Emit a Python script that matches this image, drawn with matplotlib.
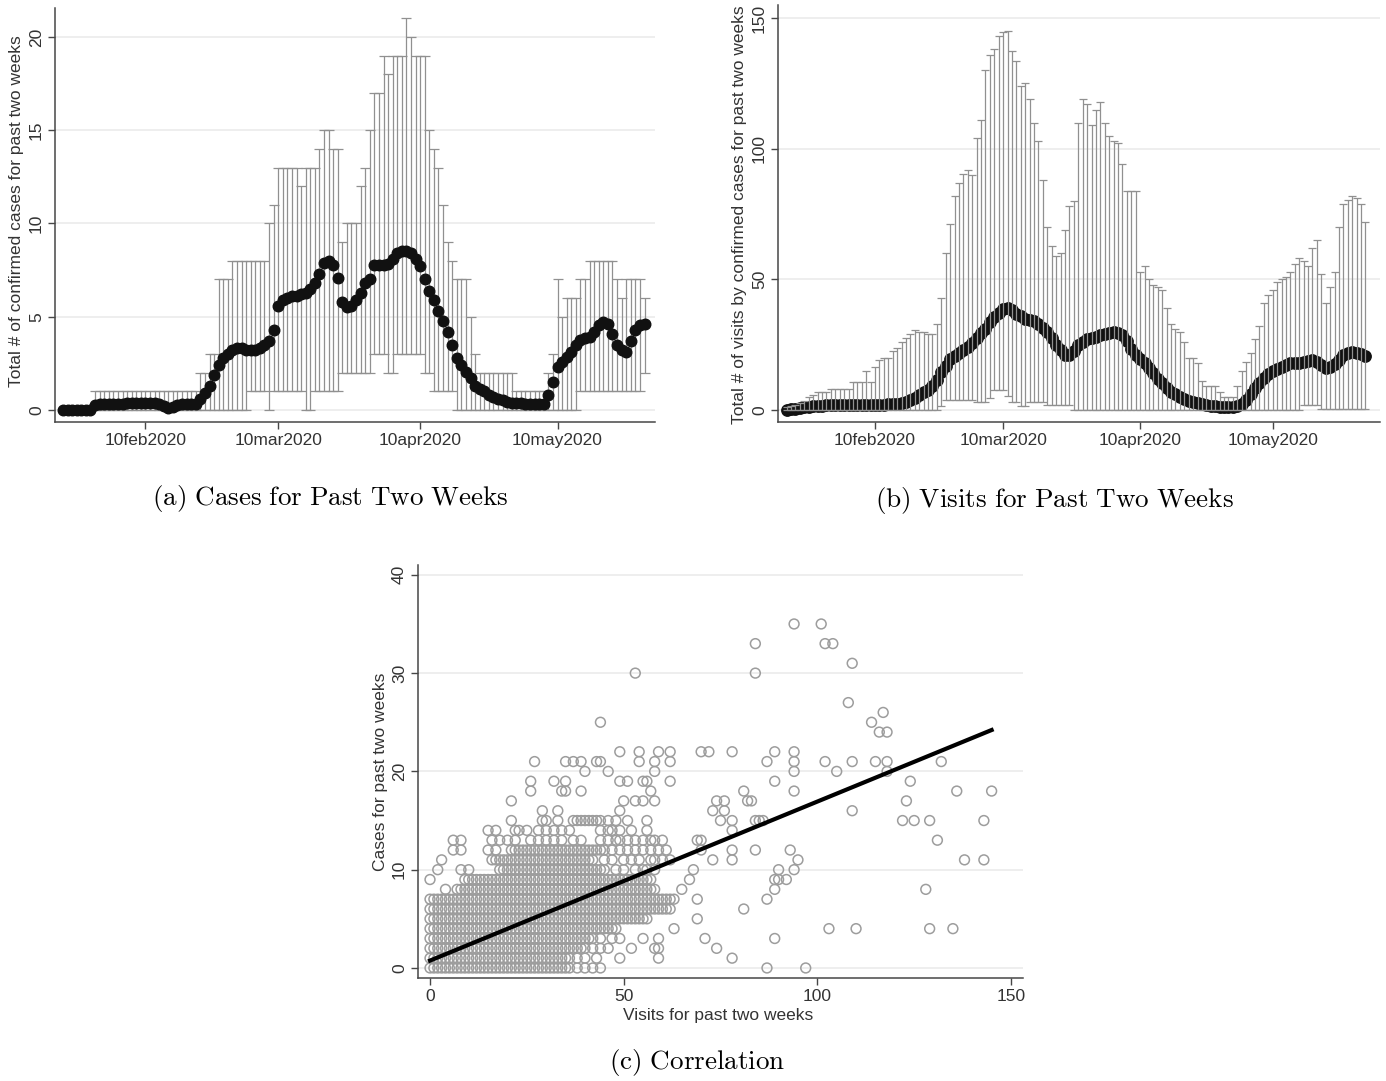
import numpy as np
import matplotlib.pyplot as plt

plt.rcParams['font.family'] = ['Liberation Sans', 'DejaVu Sans']
plt.rcParams['mathtext.fontset'] = 'cm'

# (a) confirmed cases for past two weeks, one value per day from 23jan2020
cases_start = np.datetime64('2020-01-23')
cases_max = [
    0, 0, 0, 0, 0, 0, 0, 1, 1, 1,
    1, 1, 1, 1, 1, 1, 1, 1, 1, 1,
    1, 1, 1, 1, 1, 1, 1, 1, 1, 1,
    2, 2, 3, 3, 7, 7, 7, 8, 8, 8,
    8, 8, 8, 8, 8, 10, 11, 13, 13, 13,
    13, 13, 12, 13, 13, 13, 14, 15, 15, 14,
    14, 9, 10, 10, 10, 12, 13, 15, 17, 17,
    19, 18, 19, 19, 19, 21, 20, 19, 19, 19,
    15, 14, 13, 11, 9, 8, 7, 7, 7, 5,
    3, 2, 2, 2, 2, 2, 2, 2, 2, 1,
    1, 1, 1, 1, 1, 1, 2, 3, 7, 5,
    6, 6, 6, 7, 7, 8, 8, 8, 8, 8,
    8, 7, 6, 7, 7, 7, 7, 6,
]
cases_min = [
    0, 0, 0, 0, 0, 0, 0, 0, 0, 0,
    0, 0, 0, 0, 0, 0, 0, 0, 0, 0,
    0, 0, 0, 0, 0, 0, 0, 0, 0, 0,
    0, 0, 0, 0, 0, 0, 0, 0, 0, 0,
    0, 1, 1, 1, 1, 0, 1, 1, 1, 1,
    1, 1, 1, 0, 0, 1, 1, 1, 1, 1,
    1, 2, 2, 2, 2, 2, 2, 2, 3, 3,
    3, 2, 2, 3, 3, 3, 3, 3, 3, 2,
    2, 1, 1, 1, 1, 1, 0, 0, 0, 0,
    0, 0, 0, 0, 0, 0, 0, 0, 0, 0,
    0, 0, 0, 0, 0, 0, 0, 0, 0, 0,
    0, 0, 0, 1, 1, 1, 1, 1, 1, 1,
    1, 1, 1, 1, 1, 1, 1, 2,
]
cases_mean = [
    0.0, 0.0, 0.0, 0.0, 0.0, 0.0, 0.0, 0.25, 0.3, 0.3,
    0.3, 0.3, 0.3, 0.35, 0.4, 0.4, 0.4, 0.4, 0.4, 0.4,
    0.4, 0.35, 0.2, 0.1, 0.15, 0.25, 0.3, 0.3, 0.3, 0.35,
    0.6, 0.9, 1.3, 1.9, 2.4, 2.8, 3.0, 3.2, 3.3, 3.3,
    3.2, 3.2, 3.2, 3.3, 3.5, 3.7, 4.3, 5.6, 5.9, 6.0,
    6.1, 6.1, 6.2, 6.3, 6.5, 6.8, 7.3, 7.9, 8.0, 7.8,
    7.1, 5.8, 5.5, 5.6, 5.9, 6.3, 6.8, 7.05, 7.8, 7.75,
    7.8, 7.85, 8.1, 8.4, 8.5, 8.5, 8.4, 8.1, 7.7, 7.0,
    6.4, 5.9, 5.3, 4.8, 4.2, 3.5, 2.8, 2.4, 2.05, 1.7,
    1.3, 1.15, 1.0, 0.8, 0.7, 0.6, 0.55, 0.45, 0.4, 0.4,
    0.4, 0.35, 0.35, 0.3, 0.3, 0.3, 0.8, 1.5, 2.3, 2.6,
    2.85, 3.1, 3.5, 3.75, 3.85, 3.9, 4.2, 4.55, 4.7, 4.6,
    4.1, 3.5, 3.2, 3.1, 3.7, 4.3, 4.55, 4.6,
]

# (b) visits by confirmed cases for past two weeks, daily from 21jan2020
visits_start = np.datetime64('2020-01-21')
visits_max = [
    1, 1.5, 2, 2.5, 3.5, 4.9, 5.8, 6.8, 6.8, 6.8,
    8, 8, 8, 8, 8, 10.9, 10.9, 10.9, 15, 10.9,
    16.6, 19, 20, 20, 22.6, 23.7, 26, 27.5, 29, 30.7,
    30, 30, 29, 29, 33, 43, 60, 71, 82, 87,
    90.5, 92, 90, 104, 111, 130, 136, 138, 143, 144.5,
    145, 137.5, 133.6, 124, 125, 119, 110, 103, 88, 70,
    62.7, 59, 60, 69, 78, 80, 110, 119, 117, 109,
    115, 118, 110, 105, 103, 102, 94, 84, 84, 84,
    53, 55, 50, 48, 47, 46, 39, 33, 31, 30,
    26, 20, 20, 18, 11, 9, 9, 9, 7, 5,
    5, 5, 9, 15, 18.5, 22, 27, 32, 41, 44,
    46, 49, 50, 51, 53, 56, 58, 57, 55, 62,
    65, 52, 41, 47, 53, 70, 79, 80.5, 82, 81,
    79, 72,
]
visits_min = [
    0, 0, 0, 0, 0, 0, 0, 0, 0, 0,
    0, 0, 0, 0, 0, 0, 0, 0, 0, 0,
    0, 0, 0, 0, 0, 0, 0, 0, 0, 0,
    0, 0, 0, 0, 0, 1.5, 4, 4, 4, 4,
    4, 4, 4, 3, 3, 3, 4.5, 7.5, 7.5, 7.5,
    5.5, 3, 3, 1.5, 1.5, 3, 3, 3, 3, 2,
    2, 2, 2, 2, 2, 0, 0, 0, 0, 0,
    0, 0, 0, 0, 0, 0, 0, 0, 0, 0,
    0, 0, 0, 0, 0, 0, 0, 0, 0, 0,
    0, 0, 0, 0, 0, 0, 0, 0, 0, 0,
    0, 0, 0, 0, 0, 0, 0, 0, 0, 0,
    0, 0, 0, 0, 0, 0, 0, 2, 2, 2,
    2, 0.5, 0.5, 0.5, 0.5, 0.5, 0.5, 0.5, 0.5, 0.5,
    0.5, 0.5,
]
visits_mean = [
    0.0, 0.2, 0.5, 0.8, 1.0, 1.3, 1.5, 1.6, 1.7, 1.8,
    1.9, 2.0, 2.0, 2.0, 2.0, 2.0, 2.0, 2.0, 2.0, 2.0,
    2.0, 2.0, 2.0, 2.1, 2.2, 2.3, 2.6, 3.0, 3.8, 4.7,
    5.8, 6.8, 7.8, 9.0, 11.5, 14.5, 17.0, 19.5, 20.8, 21.8,
    22.8, 24.0, 25.5, 27.5, 29.5, 31.0, 33.5, 35.5, 37.0, 38.5,
    39.0, 38.3, 36.8, 35.8, 35.0, 34.5, 34.0, 33.0, 31.5, 30.0,
    27.5, 25.0, 23.0, 21.0, 21.0, 22.5, 25.0, 26.2, 27.0, 27.5,
    28.0, 28.6, 29.0, 29.4, 29.7, 29.5, 28.8, 26.5, 23.5, 21.0,
    19.5, 18.0, 16.0, 14.0, 12.0, 10.2, 8.5, 7.0, 6.0, 5.0,
    4.3, 3.6, 3.0, 2.6, 2.2, 1.9, 1.6, 1.4, 1.2, 1.0,
    1.0, 1.2, 1.6, 2.4, 4.0, 6.0, 8.3, 10.5, 12.2, 13.6,
    14.8, 15.8, 16.6, 17.3, 17.9, 18.0, 18.0, 18.2, 18.8, 19.2,
    18.5, 17.2, 16.0, 16.3, 17.5, 19.2, 21.0, 21.8, 22.2, 22.0,
    21.5, 20.5,
]

date_ticks = ['2020-02-10', '2020-03-10', '2020-04-10', '2020-05-10']
date_labels = ['10feb2020', '10mar2020', '10apr2020', '10may2020']

# (c) cases vs visits; rows where every integer visit count in a range is filled
dense_cases = [0, 1, 2, 3, 4, 5, 6, 7, 8, 9, 10, 11, 12]
dense_from = [0, 0, 0, 0, 0, 0, 0, 0, 7, 9, 18, 16, 21]
dense_to = [36, 36, 40, 42, 48, 56, 62, 63, 58, 57, 45, 42, 45]
# single points, grouped by cases value
extra_cases = [0, 1, 2, 3, 4, 5, 6, 7, 8, 9, 10, 11, 12, 13, 14, 15, 16, 17,
               18, 19, 20, 21, 22, 24, 25, 26, 27, 30, 31, 33, 35]
extra_visits = [
    [38, 40, 42, 44, 87, 97],
    [38, 40, 43, 49, 59, 78],
    [42, 44, 46, 52, 58, 59, 74],
    [44, 47, 49, 55, 59, 71, 89],
    [63, 103, 110, 129, 135],
    [69],
    [81],
    [69, 87],
    [4, 65, 89, 128],
    [0, 67, 89, 90, 92],
    [2, 8, 10, 48, 50, 53, 55, 56, 58, 68, 90, 94],
    [3, 45, 47, 50, 52, 54, 57, 58, 60, 62, 73, 78, 95, 138, 143],
    [6, 8, 15, 17, 47, 49, 51, 53, 55, 57, 59, 61, 70, 78, 84, 93],
    [6, 8, 16, 18, 20, 22, 26, 28, 30, 32, 34, 37, 39, 44, 46, 48, 49, 51,
     53, 55, 57, 58, 60, 69, 70, 131],
    [15, 17, 22, 23, 25, 28, 30, 32, 34, 36, 44, 46, 47, 49, 52, 56, 78],
    [21, 29, 30, 33, 37, 38, 39, 40, 41, 42, 43, 44, 46, 48, 51, 56, 75, 78,
     84, 85, 86, 122, 125, 129, 143],
    [29, 33, 49, 73, 76, 109],
    [21, 50, 53, 55, 58, 74, 76, 82, 83, 123],
    [26, 34, 35, 39, 57, 81, 94, 136, 145],
    [26, 32, 35, 49, 51, 55, 56, 62, 89, 124],
    [40, 46, 58, 94, 105, 118],
    [27, 35, 37, 39, 43, 44, 54, 58, 62, 87, 94, 102, 109, 115, 118, 132],
    [49, 54, 59, 62, 70, 72, 78, 89, 94],
    [116, 118],
    [44, 114],
    [117],
    [108],
    [53, 84],
    [109],
    [84, 102, 104],
    [94, 101],
]
fit_intercept = 0.75
fit_slope = 0.1618

# assemble scatter points
sc_x, sc_y = [], []
for c, a, b in zip(dense_cases, dense_from, dense_to):
    for v in range(a, b + 1):
        sc_x.append(v)
        sc_y.append(c)
for c, vs in zip(extra_cases, extra_visits):
    for v in vs:
        sc_x.append(v)
        sc_y.append(c)

W, H = 1386, 1081
fig = plt.figure(figsize=(W / 100, H / 100), dpi=100)


def px_axes(left, top, right, bottom):
    return fig.add_axes([left / W, 1 - bottom / H, (right - left) / W, (bottom - top) / H])


def stata_style(ax, yticks):
    for s in ['top', 'right']:
        ax.spines[s].set_visible(False)
    for s in ['left', 'bottom']:
        ax.spines[s].set_color('#474747')
        ax.spines[s].set_linewidth(1.1)
    ax.tick_params(direction='out', length=5, width=1, color='#474747',
                   labelsize=12.5, labelcolor='#333333', pad=3)
    ax.set_yticks(yticks)
    ax.set_yticklabels([str(t) for t in yticks], rotation=90, va='center')
    ax.yaxis.grid(True, color='#ebebeb', lw=1.2)
    ax.set_axisbelow(True)


def caption(txt):
    return r'$\mathrm{' + txt.replace(' ', r'\ ') + '}$'


# (a)
ax_a = px_axes(55, 8, 655, 422)
days_a = cases_start + np.arange(len(cases_max))
lo = np.array(cases_min, float)
hi = np.array(cases_max, float)
ax_a.errorbar(days_a, lo, yerr=[np.zeros_like(lo), hi - lo], fmt='none',
              ecolor='#909090', elinewidth=0.9, capsize=3.3, capthick=0.9, zorder=2)
ax_a.plot(days_a, cases_mean, 'o', color='#111111', ms=7.6, zorder=3)
stata_style(ax_a, [0, 5, 10, 15, 20])
ax_a.set_ylim(-0.64, 21.55)
ax_a.set_xlim(cases_start - np.timedelta64(42, 'h'), cases_start + np.timedelta64(3103, 'h'))
ax_a.set_xticks(np.array(date_ticks, dtype='datetime64[D]'))
ax_a.set_xticklabels(date_labels)
ax_a.set_ylabel('Total # of confirmed cases for past two weeks', fontsize=12.5, color='#333333')
ax_a.yaxis.set_label_coords(-0.052, 0.51)

# (b)
ax_b = px_axes(778, 5, 1380, 422)
days_b = visits_start + np.arange(len(visits_max))
lo = np.array(visits_min, float)
hi = np.array(visits_max, float)
ax_b.plot(days_b, visits_mean, 'o', color='#111111', ms=8.2, zorder=2)
ax_b.errorbar(days_b, lo, yerr=[np.zeros_like(lo), hi - lo], fmt='none',
              ecolor='#909090', elinewidth=0.9, capsize=3.2, capthick=0.9, zorder=3)
stata_style(ax_b, [0, 50, 100, 150])
ax_b.set_ylim(-4.6, 155)
ax_b.set_xlim(visits_start - np.timedelta64(47, 'h'), visits_start + np.timedelta64(3223, 'h'))
ax_b.set_xticks(np.array(date_ticks, dtype='datetime64[D]'))
ax_b.set_xticklabels(date_labels)
ax_b.set_ylabel('Total # of visits by confirmed cases for past two weeks', fontsize=12.5, color='#333333')
ax_b.yaxis.set_label_coords(-0.0515, 0.496)

# (c)
ax_c = px_axes(418, 565, 1023, 978)
ax_c.scatter(sc_x, sc_y, s=50, facecolors='none', edgecolors='#9d9d9d', linewidths=1.1, zorder=2)
xs = np.array([min(sc_x), max(sc_x)], float)
ax_c.plot(xs, fit_intercept + fit_slope * xs, color='black', lw=3, zorder=3)
stata_style(ax_c, [0, 10, 20, 30, 40])
ax_c.set_xticks([0, 50, 100, 150])
ax_c.set_xlim(-3.1, 153.1)
ax_c.set_ylim(-1.02, 41.0)
ax_c.set_xlabel('Visits for past two weeks', fontsize=12.5, color='#333333')
ax_c.set_ylabel('Cases for past two weeks', fontsize=12.5, color='#333333')
ax_c.xaxis.set_label_coords(0.496, -0.073)
ax_c.yaxis.set_label_coords(-0.0496, 0.499)

# captions
fig.text(330 / W, 1 - 498 / H, caption('(a) Cases for Past Two Weeks'), ha='center', va='center', fontsize=19.5)
fig.text(1054 / W, 1 - 501 / H, caption('(b) Visits for Past Two Weeks'), ha='center', va='center', fontsize=19.5)
fig.text(697 / W, 1 - 1062 / H, caption('(c) Correlation'), ha='center', va='center', fontsize=19.5)

fig.savefig('out.png', dpi=100)
